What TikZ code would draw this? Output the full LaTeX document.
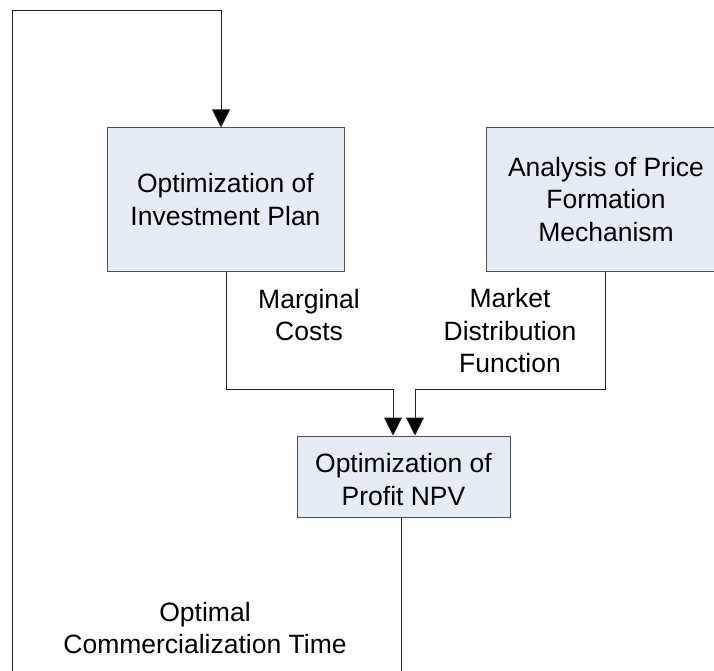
\documentclass[tikz,border=0pt]{standalone}
\usepackage{fontspec}
\setmainfont{Liberation Sans}
\usetikzlibrary{arrows.meta}
\definecolor{boxfill}{RGB}{230,236,246}
\definecolor{boxline}{RGB}{80,80,80}
\definecolor{wire}{RGB}{30,30,30}
\tikzset{
  procbox/.style={draw=boxline, fill=boxfill, line width=1pt, inner sep=0pt, align=center,
    font=\fontsize{26.5}{32.5}\selectfont},
  lbl/.style={align=center, inner sep=0pt, font=\fontsize{26.5}{32.5}\selectfont},
  wireline/.style={draw=wire, line width=1pt},
  arr/.style={wireline, -{Triangle[length=18pt,width=18pt,fill=black]}}
}
\begin{document}
\begin{tikzpicture}[x=1pt,y=-1pt]
\useasboundingbox (0,0) rectangle (714,671);
\begin{scope}
\clip (0,0) rectangle (714,671);
\node[procbox, minimum width=237pt, minimum height=143pt] (b1) at (225.5,199.5) {Optimization of\\Investment Plan};
\node[procbox, minimum width=240pt, minimum height=143pt] (b2) at (606,199.5) {Analysis of Price\\Formation\\Mechanism};
\node[procbox, minimum width=213pt, minimum height=81pt] (npv) at (403.5,476.5) {\raisebox{-6pt}[\height][\depth]{\begin{tabular}{@{}c@{}}Optimization of\\Profit NPV\end{tabular}}};

\node[lbl] (mc) at (309,315) {Marginal\\Costs};
\node[lbl] (mdf) at (510,331) {Market\\Distribution\\Function};
\node[lbl] (oct) at (205,628) {Optimal\\Commercialization Time};

\coordinate (loopbot) at (12,680);
\coordinate (npvbot) at (401,680);

\draw[arr] (loopbot) -- (12,11) -- (221,11) -- (b1.north -| 221,0);
\draw[arr] (b1.south -| 226,0) -- (226,389) -- (393,389) -- (npv.north -| 393,0);
\draw[arr] (b2.south -| 605,0) -- (605,389) -- (415,389) -- (npv.north -| 415,0);
\draw[wireline] (npv.south -| 401,0) -- (npvbot);
\end{scope}
\end{tikzpicture}
\end{document}
